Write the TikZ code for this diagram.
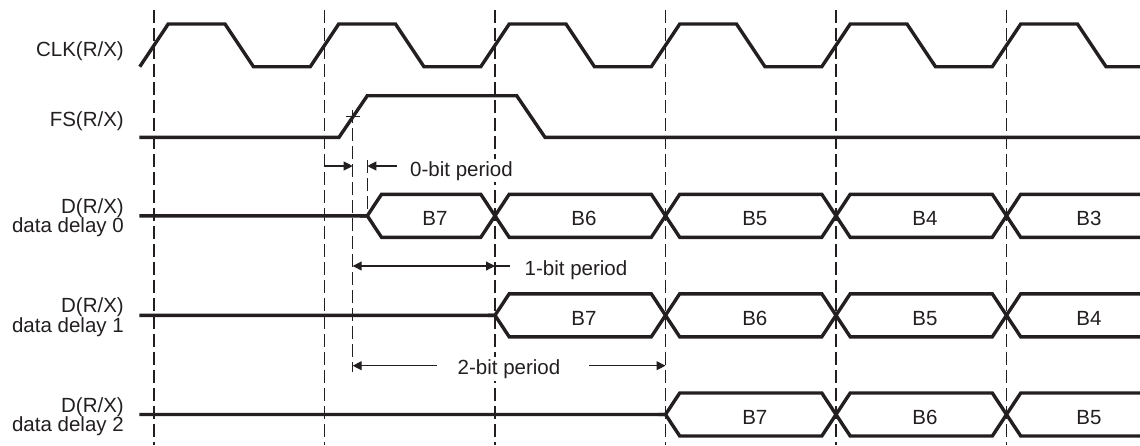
\documentclass[tikz,border=0pt]{standalone}
\usepackage{fontspec}
\setmainfont{Liberation Sans}
\usetikzlibrary{arrows.meta}
\definecolor{ink}{RGB}{35,31,32}
\begin{document}
\begin{tikzpicture}[x=1pt,y=-1pt,
  sig/.style={line width=3.4pt, draw=ink, line join=miter},
  guide/.style={line width=1.1pt, draw=ink, dash pattern=on 13pt off 5pt},
  dim/.style={line width=1.1pt, draw=ink},
  arrowEnd/.style={-{Triangle[length=9pt,width=9pt]}},
  arrowStart/.style={{Triangle[length=9pt,width=9pt]}-},
  arrowBoth/.style={{Triangle[length=9pt,width=9pt]}-{Triangle[length=9pt,width=9pt]}},
  lbl/.style={font=\fontsize{20.5}{20}\selectfont, text=ink, inner sep=0pt, anchor=base east},
  txt/.style={font=\fontsize{20.5}{20}\selectfont, text=ink, inner sep=0pt, anchor=base},
  ptxt/.style={txt, fill=white, inner sep=2pt}]
\useasboundingbox (0,0) rectangle (1140,445);
\clip (0,0) rectangle (1140,445);

% vertical guide lines
\foreach \k in {0,...,5}
  \draw[guide] ({154+170.5*\k},10) -- ({154+170.5*\k},445);

% CLK
\draw[sig] (139.8,66.7) \foreach \k in {0,...,5} {
  -- ({154+170.5*\k+14.2},24) -- ({154+170.5*\k+71},24)
  -- ({154+170.5*\k+99.5},66.7) -- ({154+170.5*\k+156.3},66.7) };

% FS
\draw[sig] (139.3,137.3) -- (339,137.3) -- (367.3,95.7) -- (516.7,95.7)
  -- (545,137.3) -- (1145,137.3);

% data delay 0
\draw[sig] (139.3,215.8) -- (367.3,215.8) -- (381.5,194.3) -- (480.8,194.3)
  -- (509.2,237.3) -- (651.3,237.3) -- (679.7,194.3) -- (821.8,194.3)
  -- (850.2,237.3) -- (992.3,237.3) -- (1020.7,194.3) -- (1145,194.3);
\draw[sig] (360,215.8) -- (367.3,215.8) -- (381.5,237.3) -- (480.8,237.3)
  -- (509.2,194.3) -- (651.3,194.3) -- (679.7,237.3) -- (821.8,237.3)
  -- (850.2,194.3) -- (992.3,194.3) -- (1020.7,237.3) -- (1145,237.3);

% data delay 1
\draw[sig] (139.3,315.3) -- (495,315.3) -- (509.2,293.8) -- (651.3,293.8)
  -- (679.7,336.8) -- (821.8,336.8) -- (850.2,293.8) -- (992.3,293.8)
  -- (1020.7,336.8) -- (1145,336.8);
\draw[sig] (488,315.3) -- (495,315.3) -- (509.2,336.8) -- (651.3,336.8)
  -- (679.7,293.8) -- (821.8,293.8) -- (850.2,336.8) -- (992.3,336.8)
  -- (1020.7,293.8) -- (1145,293.8);

% data delay 2
\draw[sig] (139.3,414.5) -- (665.5,414.5) -- (679.7,393) -- (821.8,393)
  -- (850.2,436) -- (992.3,436) -- (1020.7,393) -- (1145,393);
\draw[sig] (658,414.5) -- (665.5,414.5) -- (679.7,436) -- (821.8,436)
  -- (850.2,393) -- (992.3,393) -- (1020.7,436) -- (1145,436);

% FS reference mark and extra guides
\draw[dim] (346,116.4) -- (359.5,116.4);
\draw[guide] (352.7,110) -- (352.7,372);
\draw[guide] (367.3,160) -- (367.3,215);

% dimension arrows
\coordinate (a0l) at (324.5,166);
\coordinate (a0m) at (352.7,166);
\coordinate (a0n) at (367.3,166);
\coordinate (a0r) at (396.7,166);
\draw[dim, arrowEnd] (a0l) -- (a0m);
\draw[dim, arrowEnd] (a0r) -- (a0n);

\coordinate (a1l) at (352.7,266);
\coordinate (a1r) at (495,266);
\coordinate (a1t) at (509.5,266);
\draw[dim, arrowBoth] (a1l) -- (a1r);
\draw[dim] (a1r) -- (a1t);

\coordinate (a2l) at (352.7,365.7);
\coordinate (a2m) at (436.7,365.7);
\coordinate (a2n) at (589.3,365.7);
\coordinate (a2r) at (665.5,365.7);
\draw[dim, arrowStart] (a2l) -- (a2m);
\draw[dim, arrowEnd] (a2n) -- (a2r);

% period texts
\node[ptxt] (p0) at (461.5,176) {0-bit period};
\node[ptxt] (p1) at (576,275) {1-bit period};
\node[ptxt] (p2) at (509,374.3) {2-bit period};

% signal labels
\node[lbl] (clk) at (124,56.5) {CLK(R/X)};
\node[lbl] (fs) at (124,126) {FS(R/X)};
\node[lbl] (d0a) at (124,213.3) {D(R/X)};
\node[lbl] (d0b) at (124,232.7) {data delay 0};
\node[lbl] (d1a) at (124,312.8) {D(R/X)};
\node[lbl] (d1b) at (124,332.2) {data delay 1};
\node[lbl] (d2a) at (124,412) {D(R/X)};
\node[lbl] (d2b) at (124,431.4) {data delay 2};

% bus contents
\node[txt] (r0b7) at (435,225.8) {B7};
\node[txt] (r0b6) at (584,225.8) {B6};
\node[txt] (r0b5) at (754.8,225.8) {B5};
\node[txt] (r0b4) at (925,225.8) {B4};
\node[txt] (r0b3) at (1089,225.8) {B3};
\node[txt] (r1b7) at (584,325.3) {B7};
\node[txt] (r1b6) at (754.8,325.3) {B6};
\node[txt] (r1b5) at (925,325.3) {B5};
\node[txt] (r1b4) at (1089,325.3) {B4};
\node[txt] (r2b7) at (754.8,424.5) {B7};
\node[txt] (r2b6) at (925,424.5) {B6};
\node[txt] (r2b5) at (1089,424.5) {B5};
\end{tikzpicture}
\end{document}
